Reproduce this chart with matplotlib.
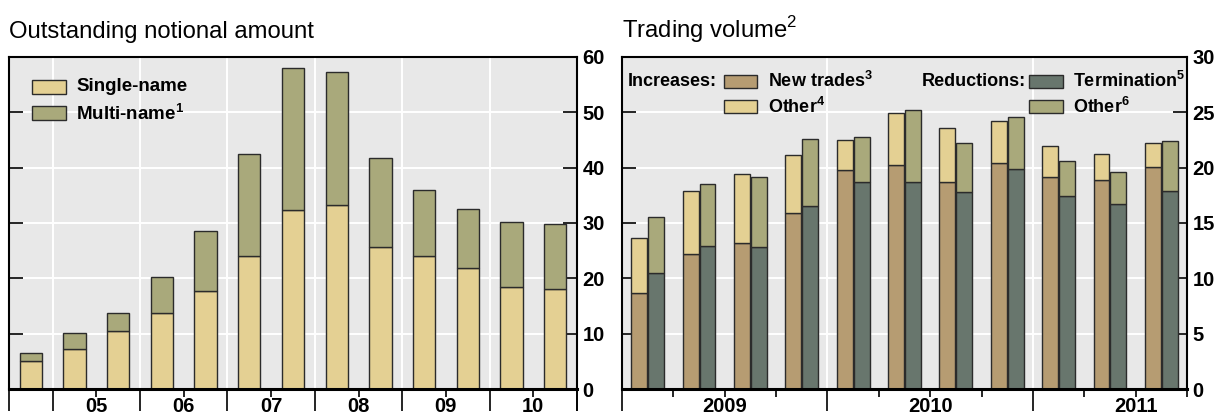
import matplotlib
matplotlib.use("Agg")
import matplotlib.pyplot as plt
from matplotlib.patches import Rectangle
import numpy as np

plt.rcParams['font.family'] = ['Liberation Sans', 'DejaVu Sans']
plt.rcParams['mathtext.fontset'] = 'custom'
plt.rcParams['mathtext.rm'] = 'Liberation Sans'
plt.rcParams['mathtext.bf'] = 'Liberation Sans:bold'

# left panel: half-yearly, 2004 H2 .. 2010 H2
single_name = [5.1, 7.3, 10.4, 13.8, 17.8, 24.1, 32.4, 33.3, 25.7, 24.1, 21.8, 18.4, 18.1]
total_outstanding = [6.5, 10.2, 13.8, 20.3, 28.6, 42.4, 58.1, 57.2, 41.8, 35.9, 32.6, 30.2, 29.8]
multi_name = [t - s for t, s in zip(total_outstanding, single_name)]
left_years = ['05', '06', '07', '08', '09', '10']

# right panel: quarterly, 2009 Q1 .. 2011 Q3
new_trades = [8.7, 12.2, 13.2, 15.9, 19.8, 20.2, 18.7, 20.4, 19.2, 18.9, 20.1]
increases_total = [13.6, 17.9, 19.4, 21.1, 22.5, 24.9, 23.6, 24.2, 22.0, 21.2, 22.2]
termination = [10.5, 12.9, 12.8, 16.5, 18.7, 18.7, 17.8, 19.9, 17.4, 16.7, 17.9]
reductions_total = [15.5, 18.5, 19.2, 22.6, 22.8, 25.2, 22.2, 24.6, 20.6, 19.6, 22.4]
other_inc = [t - n for t, n in zip(increases_total, new_trades)]
other_red = [t - n for t, n in zip(reductions_total, termination)]
right_years = ['2009', '2010', '2011']

c_single = '#e4d093'
c_multi = '#a9a97b'
c_new = '#b69c72'
c_term = '#68766d'
edge = '#2b2b2b'
bg = '#e8e8e8'

fig = plt.figure(figsize=(12.2, 4.15), dpi=100)
axL = fig.add_axes([9/1220, 26/415, 568/1220, 332/415])
axR = fig.add_axes([622/1220, 26/415, 565/1220, 332/415])


def style(ax, ymax, step):
    ax.set_facecolor(bg)
    ax.set_ylim(0, ymax)
    ax.set_yticks(np.arange(0, ymax + 1, step))
    ax.yaxis.tick_right()
    ax.tick_params(axis='y', which='both', left=True, right=True, direction='in',
                   length=10, width=1.2, labelsize=14.5, pad=4)
    for lab in ax.get_yticklabels():
        lab.set_fontweight('bold')
    ax.grid(axis='y', color='white', linewidth=1.4)
    ax.grid(axis='x', which='major', color='white', linewidth=1.4)
    ax.set_axisbelow(True)
    for s in ['left', 'right', 'top']:
        ax.spines[s].set_linewidth(1.5)
    ax.spines['bottom'].set_linewidth(2.2)
    ax.tick_params(axis='x', which='major', direction='out', length=16, width=1.2,
                   labelbottom=False)
    ax.tick_params(axis='x', which='minor', direction='out', length=6, width=1.2,
                   labelsize=14.5, pad=0)
    for lab in ax.get_xticklabels(minor=True):
        lab.set_fontweight('bold')


# ---- left panel
xl = np.arange(len(single_name))
w = 0.51
axL.bar(xl, single_name, w, color=c_single, edgecolor=edge, linewidth=1)
axL.bar(xl, multi_name, w, bottom=single_name, color=c_multi, edgecolor=edge, linewidth=1)
axL.set_xlim(-0.5, len(xl) - 0.5)
axL.set_xticks([-0.5] + list(np.arange(0.5, len(xl), 2)) + [len(xl) - 0.5])
axL.set_xticks(np.arange(1.5, len(xl), 2), left_years, minor=True)
style(axL, 60, 10)

for i, (lab, col) in enumerate([('Single-name', c_single), ('Multi-name$^\\mathbf{1}$', c_multi)]):
    yc = [0.91, 0.83][i]
    axL.add_patch(Rectangle((0.0405, yc - 0.021), 0.06, 0.042, transform=axL.transAxes,
                            facecolor=col, edgecolor=edge, linewidth=1, zorder=5))
    axL.text(0.118, yc, lab, transform=axL.transAxes, va='center', ha='left',
             fontsize=13.5, fontweight='bold', zorder=5)

# ---- right panel
xr = np.arange(len(new_trades))
bw = 0.31
off = 0.165
axR.bar(xr - off, new_trades, bw, color=c_new, edgecolor=edge, linewidth=1)
axR.bar(xr - off, other_inc, bw, bottom=new_trades, color=c_single, edgecolor=edge, linewidth=1)
axR.bar(xr + off, termination, bw, color=c_term, edgecolor=edge, linewidth=1)
axR.bar(xr + off, other_red, bw, bottom=termination, color=c_multi, edgecolor=edge, linewidth=1)
axR.set_xlim(-0.5, len(xr) - 0.5)
axR.set_xticks([-0.5, 3.5, 7.5])
minor_pos = [p for p in np.arange(0.5, len(xr), 1.0) if (p + 0.5) % 4 != 0]
minor_lab = []
for p in minor_pos:
    if (p - 1.5) % 4 == 0:
        minor_lab.append(right_years[int((p - 1.5) // 4)])
    else:
        minor_lab.append('')
axR.set_xticks(minor_pos, minor_lab, minor=True)
style(axR, 30, 5)

txt_kw = dict(transform=axR.transAxes, va='center', ha='left', fontsize=13,
              fontweight='bold', zorder=5)
axR.text(0.0096, 0.927, 'Increases:', **txt_kw)
axR.text(0.531, 0.927, 'Reductions:', **txt_kw)
entries = [(0.18, 0.258, 0.927, c_new, 'New trades$^\\mathbf{3}$'),
           (0.18, 0.258, 0.85, c_single, 'Other$^\\mathbf{4}$'),
           (0.721, 0.798, 0.927, c_term, 'Termination$^\\mathbf{5}$'),
           (0.721, 0.798, 0.85, c_multi, 'Other$^\\mathbf{6}$')]
for px, tx, yc, col, lab in entries:
    axR.add_patch(Rectangle((px, yc - 0.02), 0.059, 0.04, transform=axR.transAxes,
                            facecolor=col, edgecolor=edge, linewidth=1, zorder=5))
    axR.text(tx, yc, lab, **txt_kw)

fig.text(9/1220, 1 - 38/415, 'Outstanding notional amount', fontsize=17.2, va='baseline')
fig.text(622/1220, 1 - 38/415, 'Trading volume$^2$', fontsize=17.2, va='baseline')

fig.savefig('out.png', dpi=100)
